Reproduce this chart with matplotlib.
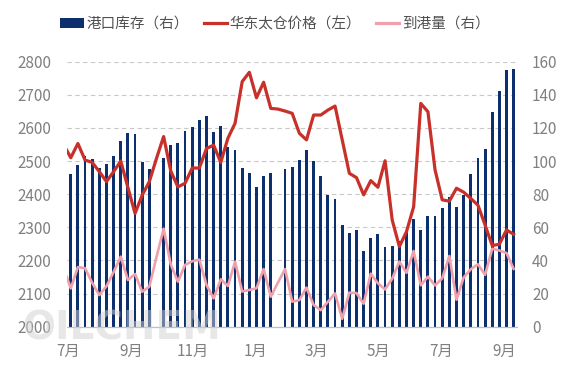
import numpy as np
import pandas as pd
import matplotlib
matplotlib.use('Agg')
import matplotlib.pyplot as plt
import matplotlib.dates as mdates
from matplotlib.patches import Patch
from matplotlib.lines import Line2D
from matplotlib.ticker import MultipleLocator, FuncFormatter

plt.rcParams['font.family'] = ['Noto Sans CJK SC', 'DejaVu Sans']

# weekly dates of the bars, lines start a few days earlier
week_dates = pd.date_range('2023-07-04', periods=63, freq='7D')
line_dates = pd.DatetimeIndex([pd.Timestamp('2023-06-30')]).append(week_dates)

# 港口库存（右）
stock = [92.2, 97.6, 103, 101.3, 96, 98.2, 103, 112, 116.8, 116.2,
         99.3, 95.1, np.nan, 101.6, 109.7, 110.7, 118.1, 120.5, 124.5, 127,
         117.5, 121.3, 108.4, 106.4, 95.6, 92.8, 84.3, 91, 92.8, np.nan,
         95, 96.2, 100.4, 106.4, 99.8, 90.7, 79.3, 76.9, 61.2, 56.3,
         58.3, 45.5, 53.5, 55.7, 48.1, 48.6, 52, 58, 65, 58.3,
         66.8, 66.8, 71.6, 78.3, 72.2, 79.5, 92.1, 101.6, 107, 129.4,
         142.2, 155, 155.3]

# 华东太仓价格（左）
price = [2533,
         2510, 2553, 2503, 2496, 2468, 2438, 2468, 2500, 2420, 2342,
         2397, 2438, 2508, 2574, 2470, 2422, 2433, 2479, 2479, 2538,
         2548, 2496, 2569, 2614, 2740, 2768, 2691, 2738, 2659, 2657,
         2651, 2644, 2584, 2564, 2639, 2639, 2654, 2666, 2564, 2463,
         2450, 2398, 2441, 2421, 2501, 2322, 2242, 2287, 2362, 2674,
         2649, 2473, 2383, 2379, 2418, 2406, 2387, 2367, 2307, 2245,
         2249, 2292, 2279]

# 到港量（右）
arrival = [30.2,
           23.1, 36.0, 35.3, 26.5, 19.1, 24.5, 33, 42.3, 28.2, 31.8,
           21.1, 24.2, 42, 59.2, 37.6, 27.2, 37.3, 39.5, 40.5, 25.2,
           17.1, 28.6, 24.6, 39.3, 21.2, 22.2, 23.2, 34.8, 18.1, 26.6,
           34.8, 15.1, 16.1, 23.6, 13.1, 10.0, 15.1, 20.1, 4.8, 20.6,
           20.3, 13.9, 32, 26.2, 22.5, 29, 39.3, 32.5, 45.7, 25,
           30.2, 24.9, 29.2, 42.7, 16.3, 29.7, 34.7, 37.7, 31.3, 47.1,
           46, 44.5, 34.9]

c_bar = '#0c2f6e'
c_red = '#c8302a'
c_pink = '#f0a0ab'
c_text = '#808080'

fig = plt.figure(figsize=(5.67, 3.78), dpi=100)
ax = fig.add_axes([0.1176, 0.1357, 0.7937, 0.7011])
ax2 = ax.twinx()
ax.set_zorder(2)
ax2.set_zorder(1)
ax.patch.set_visible(False)

ax2.bar(week_dates, stock, width=2.8, color=c_bar, zorder=2)
ax2.plot(line_dates, arrival, color=c_pink, lw=1.9, zorder=3)
ax.plot(line_dates, price, color=c_red, lw=2.3, zorder=4)

ax.set_ylim(2000, 2800)
ax2.set_ylim(0, 160)
ax.yaxis.set_major_locator(MultipleLocator(100))
ax2.yaxis.set_major_locator(MultipleLocator(20))
ax.set_xlim(pd.Timestamp('2023-06-30'), week_dates[0] + pd.Timedelta(days=437))

ax2.grid(True, axis='y', linestyle=(0, (4, 3)), color='#c8c8c8', linewidth=0.8)
ax2.set_axisbelow(True)

ax.xaxis.set_major_locator(mdates.MonthLocator(bymonth=[1, 3, 5, 7, 9, 11]))
ax.xaxis.set_major_formatter(FuncFormatter(lambda v, p: '{}月'.format(mdates.num2date(v).month)))

for a in (ax, ax2):
    for s in ['top', 'left', 'right']:
        a.spines[s].set_visible(False)
    a.spines['bottom'].set_color('#c0c0c0')
ax.tick_params(axis='x', length=0, pad=12, labelsize=11, labelcolor=c_text)
ax.tick_params(axis='y', length=0, pad=11, labelsize=11, labelcolor=c_text)
ax2.tick_params(axis='y', length=0, pad=11, labelsize=11, labelcolor=c_text)

handles = [Patch(facecolor=c_bar, edgecolor='none'),
           Line2D([], [], color=c_red, lw=2.3),
           Line2D([], [], color=c_pink, lw=2.3)]
labels = ['港口库存（右）', '华东太仓价格（左）', '到港量（右）']
fig.legend(handles, labels, loc='center left', bbox_to_anchor=(53 / 567, 1 - 24 / 378),
           ncol=3, frameon=False, fontsize=10.5, handlelength=1.6, handleheight=0.6,
           handletextpad=0.2, columnspacing=1.0, borderpad=0, labelcolor='#505050')

fig.text(122 / 567, 1 - 329 / 378, 'OILCHEM', fontsize=28, fontweight='bold',
         color='#d0d0d0', alpha=0.5, ha='center', va='center', family='DejaVu Sans')

fig.savefig('out.png', dpi=100)
